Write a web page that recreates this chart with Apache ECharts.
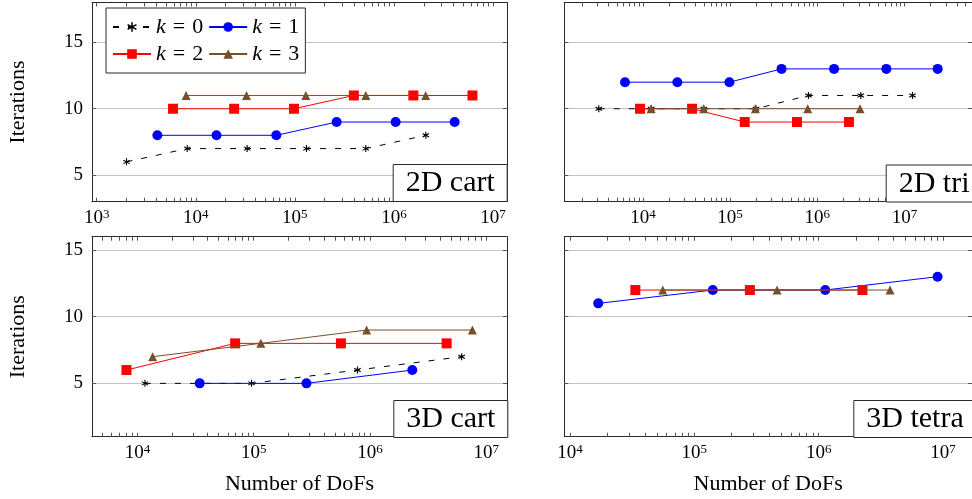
<!DOCTYPE html>
<html><head><meta charset="utf-8">
<script src="https://cdn.jsdelivr.net/npm/echarts@6/dist/echarts.min.js"></script>
<style>html,body{margin:0;padding:0;background:#fff}#c{width:972px;height:499px}</style>
</head><body><div id="c"></div>
<script>
// ---------------- data ----------------
const panelTitles = ['2D cart', '2D tri', '3D cart', '3D tetra'];
const seriesNames = ['k0', 'k1', 'k2', 'k3'];
const yTickValues = [5, 10, 15];

// 2D cart
const cart2dK0X = [2.0e3, 8.2e3, 3.3e4, 1.31e5, 5.2e5, 2.1e6];
const cart2dK0Y = [6, 7, 7, 7, 7, 8];
const cart2dK1X = [4.1e3, 1.62e4, 6.5e4, 2.64e5, 1.04e6, 4.1e6];
const cart2dK1Y = [8, 8, 8, 9, 9, 9];
const cart2dK2X = [5.9e3, 2.44e4, 9.8e4, 3.94e5, 1.57e6, 6.2e6];
const cart2dK2Y = [10, 10, 10, 11, 11, 11];
const cart2dK3X = [8.0e3, 3.25e4, 1.29e5, 5.2e5, 2.09e6];
const cart2dK3Y = [11, 11, 11, 11, 11];

// 2D tri
const tri2dK0X = [3.11e3, 1.24e4, 4.97e4, 1.98e5, 7.92e5, 3.16e6, 1.24e7];
const tri2dK0Y = [10, 10, 10, 10, 11, 11, 11];
const tri2dK1X = [6.22e3, 2.48e4, 9.82e4, 3.89e5, 1.56e6, 6.21e6, 2.41e7];
const tri2dK1Y = [12, 12, 12, 13, 13, 13, 13];
const tri2dK2X = [9.25e3, 3.66e4, 1.47e5, 5.85e5, 2.31e6];
const tri2dK2Y = [10, 10, 9, 9, 9];
const tri2dK3X = [1.24e4, 4.97e4, 1.95e5, 7.78e5, 3.10e6];
const tri2dK3Y = [10, 10, 10, 10, 10];

// 3D cart
const cart3dK0X = [1.16e4, 9.57e4, 7.8e5, 6.14e6];
const cart3dK0Y = [5, 5, 6, 7];
const cart3dK1X = [3.43e4, 2.84e5, 2.31e6];
const cart3dK1Y = [5, 5, 6];
const cart3dK2X = [8.04e3, 6.92e4, 5.62e5, 4.56e6];
const cart3dK2Y = [6, 8, 8, 8];
const cart3dK3X = [1.35e4, 1.15e5, 9.35e5, 7.59e6];
const cart3dK3Y = [7, 8, 9, 9];

// 3D tetra
const tet3dK1X = [1.69e4, 1.41e5, 1.13e6, 9.04e6];
const tet3dK1Y = [11, 12, 12, 13];
const tet3dK2X = [3.36e4, 2.80e5, 2.25e6];
const tet3dK2Y = [12, 12, 12];
const tet3dK3X = [5.58e4, 4.63e5, 3.75e6];
const tet3dK3Y = [12, 12, 12];

const panelData = [
  [[cart2dK0X, cart2dK0Y], [cart2dK1X, cart2dK1Y], [cart2dK2X, cart2dK2Y], [cart2dK3X, cart2dK3Y]],
  [[tri2dK0X, tri2dK0Y], [tri2dK1X, tri2dK1Y], [tri2dK2X, tri2dK2Y], [tri2dK3X, tri2dK3Y]],
  [[cart3dK0X, cart3dK0Y], [cart3dK1X, cart3dK1Y], [cart3dK2X, cart3dK2Y], [cart3dK3X, cart3dK3Y]],
  [null, [tet3dK1X, tet3dK1Y], [tet3dK2X, tet3dK2Y], [tet3dK3X, tet3dK3Y]]
];

// ---------------- layout / style ----------------
const FONT = '"Liberation Serif", "DejaVu Serif", serif';
const grids = [
  {left: 92, top: 2.5, width: 415, height: 199.2},
  {left: 564.3, top: 2.5, width: 415, height: 199.2},
  {left: 92, top: 236.7, width: 415, height: 200},
  {left: 564.3, top: 236.7, width: 415, height: 200}
];
const xLogRange = [[2.953, 7.141], [3.097, 7.776], [3.609, 7.178], [3.955, 7.233]];
const yRange = [[3, 18], [3, 18], [1, 16], [1, 16]];
const titlePos = [[392.7, 164], [885.7, 164.5], [393.3, 400], [853.3, 400]];

function tickList(lo, hi) {
  const out = [];
  for (let d = Math.floor(lo); d <= Math.ceil(hi); d++) {
    for (let m = 1; m <= 9; m++) {
      const v = m * Math.pow(10, d);
      const l = Math.log10(v);
      if (l > lo + 0.002 && l < hi - 0.002) out.push(v);
    }
  }
  return out;
}
function decadeList(lo, hi) {
  const out = [];
  for (let d = Math.ceil(lo); d <= Math.floor(hi); d++) out.push(Math.pow(10, d));
  return out;
}
function asteriskPath() {
  const c = 5, L = 5, w = 0.75; let s = '';
  [90, 30, 150].forEach(a => {
    const r = a * Math.PI / 180;
    const d = [Math.cos(r), Math.sin(r)], p = [-Math.sin(r), Math.cos(r)];
    const pts = [[-1, -1], [1, -1], [1, 1], [-1, 1]].map(([i, j]) =>
      [c + i * L * d[0] + j * w * p[0], c + i * L * d[1] + j * w * p[1]]);
    s += 'M' + pts.map(q => q[0].toFixed(3) + ' ' + q[1].toFixed(3)).join(' L') + ' Z ';
  });
  return 'path://' + s;
}
const seriesStyle = [
  {color: '#000000', symbol: asteriskPath(), symbolSize: 7, dash: [6, 9]},
  {color: '#0000ff', symbol: 'circle', symbolSize: 10, dash: 'solid'},
  {color: '#ff0000', symbol: 'rect', symbolSize: 10, dash: 'solid'},
  {color: '#76502b', symbol: 'triangle', symbolSize: 9, dash: 'solid'}
];

const AXC = '#2a2a2a';
const xAxes = [], yAxes = [], series = [], titles = [];
grids.forEach((g, i) => {
  const [lo, hi] = xLogRange[i];
  const ticks = tickList(lo, hi);
  const decs = decadeList(lo, hi);
  ['bottom', 'top'].forEach(pos => {
    xAxes.push({
      type: 'log', logBase: 10, gridIndex: i, position: pos,
      min: Math.pow(10, lo), max: Math.pow(10, hi),
      axisLine: {show: true, onZero: false, lineStyle: {color: AXC, width: 1}},
      axisTick: {show: true, inside: true, length: 4, customValues: ticks, lineStyle: {color: '#555', width: 1}},
      axisLabel: {
        show: pos === 'bottom', customValues: decs, margin: 6,
        formatter: v => '{b|10}{s|' + Math.round(Math.log10(v)) + '}',
        rich: {
          b: {fontFamily: FONT, fontSize: 19, color: '#000', lineHeight: 20, verticalAlign: 'bottom'},
          s: {fontFamily: FONT, fontSize: 13, color: '#000', lineHeight: 14, verticalAlign: 'top', padding: [0, 0, 9, 0]}
        }
      },
      splitLine: {show: false}, minorTick: {show: false}, minorSplitLine: {show: false},
      name: (pos === 'bottom' && i >= 2) ? 'Number of DoFs' : '',
      nameLocation: 'middle', nameGap: 37,
      nameTextStyle: {fontFamily: FONT, fontSize: 22, color: '#000'}
    });
  });
  ['left', 'right'].forEach(pos => {
    yAxes.push({
      type: 'value', gridIndex: i, position: pos,
      min: yRange[i][0], max: yRange[i][1],
      axisLine: {show: true, onZero: false, lineStyle: {color: AXC, width: 1}},
      axisTick: {show: true, inside: true, length: 4, customValues: yTickValues, lineStyle: {color: '#555', width: 1}},
      axisLabel: {show: pos === 'left' && (i === 0 || i === 2), customValues: yTickValues, margin: 9,
        fontFamily: FONT, fontSize: 19, color: '#000'},
      splitLine: {show: pos === 'left', lineStyle: {color: '#c4c4c4', width: 1}},
      name: (pos === 'left' && (i === 0 || i === 2)) ? 'Iterations' : '',
      nameLocation: 'middle', nameGap: 63, nameRotate: 90,
      nameTextStyle: {fontFamily: FONT, fontSize: 22, color: '#000'}
    });
  });
  panelData[i].forEach((pair, k) => {
    if (!pair) return;
    const st = seriesStyle[k];
    series.push({
      type: 'line', name: seriesNames[k], xAxisIndex: 2 * i, yAxisIndex: 2 * i,
      data: pair[0].map((x, j) => [x, pair[1][j]]),
      symbol: st.symbol, symbolSize: st.symbolSize, showAllSymbol: true,
      itemStyle: {color: st.color, borderWidth: 0},
      lineStyle: {color: st.color, width: 1, type: st.dash},
      z: 2 + k, animation: false
    });
  });
  titles.push({
    text: panelTitles[i], left: titlePos[i][0], top: titlePos[i][1],
    padding: [4, 13, 3, 13], borderWidth: 1, borderColor: AXC, backgroundColor: '#fff',
    textStyle: {fontFamily: FONT, fontSize: 30, fontWeight: 'normal', color: '#000', lineHeight: 31}
  });
});

const option = {
  animation: false,
  backgroundColor: '#fff',
  title: titles,
  grid: grids,
  xAxis: xAxes,
  yAxis: yAxes,
  legend: {
    left: 106, top: 8, width: 206, orient: 'horizontal',
    itemWidth: 38, itemHeight: 12, itemGap: 5,
    padding: [8, 6, 8, 6], backgroundColor: '#fff', borderColor: AXC, borderWidth: 1, borderRadius: 0,
    data: seriesNames,
    formatter: n => '{i|k}{e|=}{n|' + n.slice(1) + '}',
    textStyle: {
      fontFamily: FONT, fontSize: 22, color: '#000',
      rich: {
        i: {fontFamily: FONT, fontSize: 22, fontStyle: 'italic', color: '#000'},
        e: {fontFamily: FONT, fontSize: 22, color: '#000', padding: [0, 7, 0, 7]},
        n: {fontFamily: FONT, fontSize: 22, color: '#000'}
      }
    }
  },
  series: series
};
const chart = echarts.init(document.getElementById('c'), null, {renderer: 'canvas'});
chart.setOption(option);
</script></body></html>
